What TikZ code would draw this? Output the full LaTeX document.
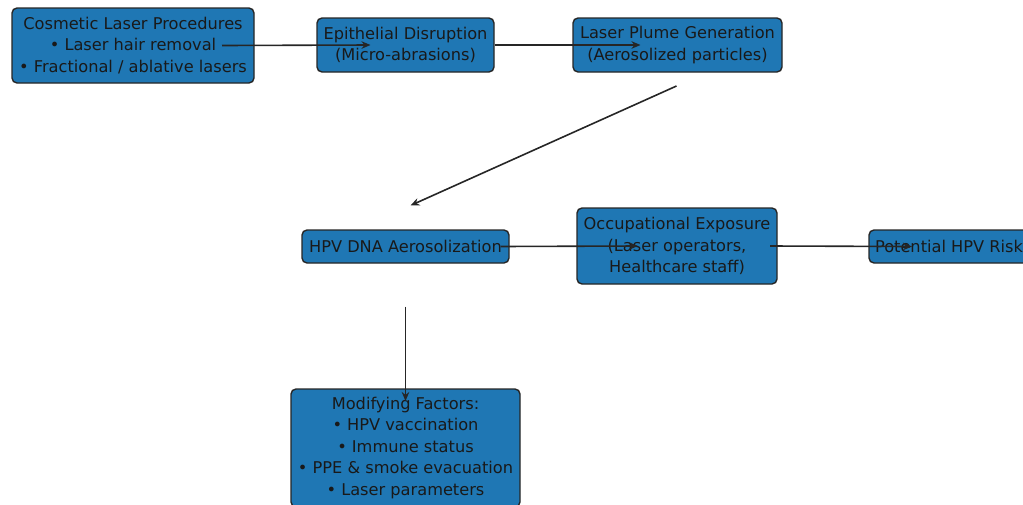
\documentclass[tikz,border=0pt]{standalone}
\usepackage{fontspec}
\setmainfont{DejaVu Sans}
\usetikzlibrary{arrows.meta,calc}
\definecolor{boxblue}{HTML}{1F77B4}
\begin{document}
\begin{tikzpicture}[x=1pt,y=-1pt,
  box/.style={draw=black!85,line width=1.4pt,rounded corners=5pt,fill=boxblue,
    align=center,inner sep=0pt,font=\fontsize{16.2}{21.5}\selectfont,text=black!90},
  conn/.style={draw=black!85,line width=1.6pt,-{Stealth[length=9pt,width=7.5pt]}}]
\useasboundingbox (0,0) rectangle (1023,504);
\clip (0,0) rectangle (1023,504);
\node[box,minimum width=242pt,minimum height=75pt] (cos) at (133,45.5)
  {Cosmetic Laser Procedures\\ • Laser hair removal\\ • Fractional / ablative lasers};
\node[box,minimum width=177pt,minimum height=54pt] (epi) at (405.5,45)
  {Epithelial Disruption\\(Micro-abrasions)};
\node[box,minimum width=209pt,minimum height=54pt] (plume) at (677.5,45)
  {Laser Plume Generation\\(Aerosolized particles)};
\node[box,minimum width=207pt,minimum height=33pt] (hpv) at (405.5,246.5)
  {HPV DNA Aerosolization};
\node[box,minimum width=200pt,minimum height=76pt] (occ) at (677,246)
  {Occupational Exposure\\(Laser operators,\\Healthcare staff)};
\node[box,minimum width=160pt,minimum height=33pt] (risk) at (949,246.5)
  {Potential HPV Risk};
\node[box,minimum width=229pt,minimum height=118pt] (mod) at (405.5,448)
  {Modifying Factors:\\ • HPV vaccination\\ • Immune status\\ • PPE \& smoke evacuation\\ • Laser parameters};
\draw[conn] ($(cos.center)+(89,0)$) -- ($(epi.center)+(-35,0)$);
\draw[conn] ($(epi.center)+(89,0)$) -- ($(plume.center)+(-37,0)$);
\draw[conn] ($(plume.center)+(-1,41)$) -- ($(hpv.center)+(5,-41)$);
\draw[conn] ($(hpv.center)+(95,0)$) -- ($(occ.center)+(-39,0)$);
\draw[conn] ($(occ.center)+(93,0)$) -- ($(risk.center)+(-37,0)$);
\draw[conn] ($(hpv.center)+(0,60)$) -- ($(mod.center)+(0,-47)$);
\end{tikzpicture}
\end{document}
